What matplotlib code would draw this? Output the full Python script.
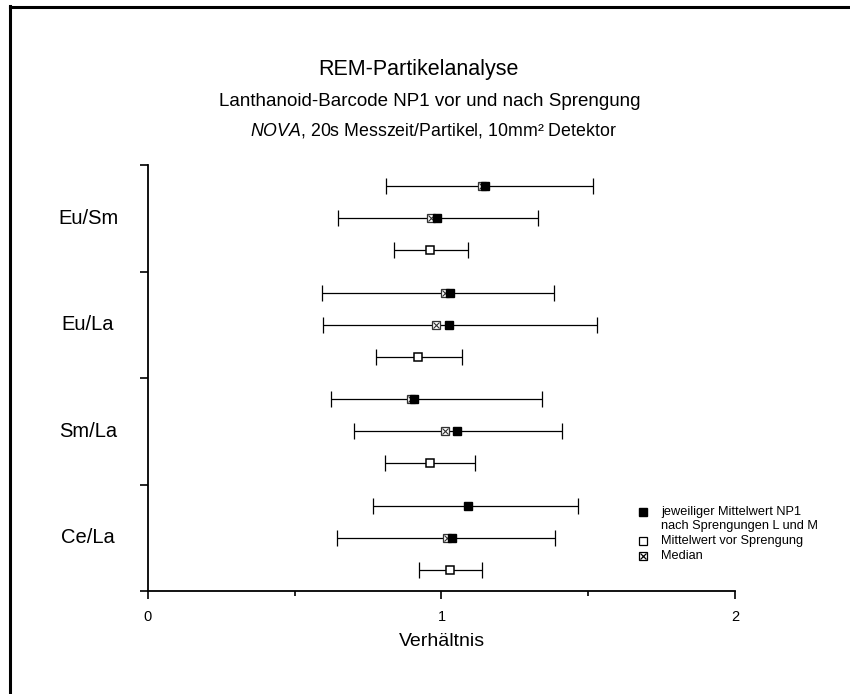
import matplotlib
matplotlib.use('Agg')
import matplotlib.pyplot as plt
import matplotlib.transforms as mtransforms
import numpy as np

plt.rcParams['font.family'] = ['Liberation Sans', 'DejaVu Sans']
plt.rcParams['mathtext.fontset'] = 'custom'
plt.rcParams['mathtext.it'] = 'Liberation Sans:italic'
plt.rcParams['mathtext.rm'] = 'Liberation Sans'

# --- Data (groups top to bottom) ---
groups = ['Eu/Sm', 'Eu/La', 'Sm/La', 'Ce/La']

# row 1: mean after Sprengung L
mean_l = [1.148, 1.029, 0.906, 1.089]
median_l = [1.137, 1.012, 0.895, np.nan]
lo_l = [0.810, 0.592, 0.622, 0.768]
hi_l = [1.516, 1.384, 1.343, 1.466]

# row 2: mean after Sprengung M
mean_m = [0.984, 1.027, 1.052, 1.035]
median_m = [0.963, 0.980, 1.011, 1.020]
lo_m = [0.648, 0.597, 0.702, 0.643]
hi_m = [1.330, 1.531, 1.412, 1.387]

# row 3: mean before Sprengung
mean_v = [0.962, 0.919, 0.960, 1.030]
lo_v = [0.838, 0.776, 0.809, 0.924]
hi_v = [1.089, 1.069, 1.114, 1.139]

W, H = 850, 694
fig = plt.figure(figsize=(W / 100, H / 100), dpi=100)
fig.patch.set_facecolor('white')

# frame around the figure (left and top visible)
fig.add_artist(plt.Line2D([9.5 / W, 9.5 / W], [0, 1 - 6 / H], color='black', lw=2.2))
fig.add_artist(plt.Line2D([9.5 / W, 1], [1 - 6.5 / H, 1 - 6.5 / H], color='black', lw=2.2))

ax = fig.add_axes([148 / W, 103 / H, 587 / W, 426 / H])
ax.set_xlim(0, 2)
ax.set_ylim(0, 4)

n = len(groups)
base = np.arange(n)[::-1]  # Eu/Sm at top


def errrow(y, mean, lo, hi):
    mean = np.array(mean)
    xerr = [mean - np.array(lo), np.array(hi) - mean]
    ax.errorbar(mean, y, xerr=xerr, fmt='none', ecolor='black', elinewidth=0.9,
                capsize=5.5, capthick=0.9, zorder=1)


def median_mark(x, y):
    ax.plot(x, y, ls='none', marker='s', ms=5.2, mfc='white', mec='#333333', mew=0.9, zorder=2)
    ax.plot(x, y, ls='none', marker='x', ms=4, mec='#333333', mew=0.8, zorder=2)


y_l = base + 0.8
y_m = base + 0.5
y_v = base + 0.2

errrow(y_l, mean_l, lo_l, hi_l)
errrow(y_m, mean_m, lo_m, hi_m)
errrow(y_v, mean_v, lo_v, hi_v)

median_mark(median_l, y_l)
median_mark(median_m, y_m)
ax.plot(mean_l, y_l, ls='none', marker='s', ms=6, mfc='black', mec='black', zorder=3)
ax.plot(mean_m, y_m, ls='none', marker='s', ms=6, mfc='black', mec='black', zorder=3)
ax.plot(mean_v, y_v, ls='none', marker='s', ms=5.4, mfc='white', mec='black', mew=1.1, zorder=3)

# axes styling
for s in ['top', 'right']:
    ax.spines[s].set_visible(False)
ax.spines['left'].set_linewidth(1.3)
ax.spines['bottom'].set_linewidth(1.3)

ax.set_xticks([0, 1, 2])
ax.set_xticklabels(['0', '1', '2'], fontsize=10.5)
ax.set_xticks([0.5, 1.5], minor=True)
ax.tick_params(axis='x', which='major', direction='out', length=6, width=1.2, pad=8)
ax.tick_params(axis='x', which='minor', direction='out', length=3.5, width=1.2)
ax.set_yticks(np.arange(0, n + 1))
ax.set_yticklabels([])
ax.tick_params(axis='y', direction='out', length=6, width=1.2)

lab_tr = mtransforms.blended_transform_factory(fig.transFigure, ax.transData)
for i, g in enumerate(groups):
    ax.text(88 / W, base[i] + 0.5, g, transform=lab_tr,
            ha='center', va='center', fontsize=14.5)

ax.set_xlabel('Verhältnis', fontsize=14, labelpad=6)

# titles
fig.text(418 / W, 1 - 70 / H, 'REM-Partikelanalyse', ha='center', va='center', fontsize=15.5)
fig.text(430 / W, 1 - 101 / H, 'Lanthanoid-Barcode NP1 vor und nach Sprengung',
         ha='center', va='center', fontsize=13.5)
fig.text(433 / W, 1 - 130 / H, r'$\it{NOVA}$, 20s Messzeit/Partikel, 10mm² Detektor',
         ha='center', va='center', fontsize=12.8)

# legend
lx, tx = 643 / W, 661 / W
fs = 9.2
fig.add_artist(plt.Line2D([lx], [1 - 512 / H], ls='none', marker='s', ms=6, mfc='black', mec='black'))
fig.text(tx, 1 - 512 / H, 'jeweiliger Mittelwert NP1', ha='left', va='center', fontsize=fs)
fig.text(tx, 1 - 526 / H, 'nach Sprengungen L und M', ha='left', va='center', fontsize=fs)
fig.add_artist(plt.Line2D([lx], [1 - 541 / H], ls='none', marker='s', ms=5.5, mfc='white', mec='black', mew=0.9))
fig.text(tx, 1 - 541 / H, 'Mittelwert vor Sprengung', ha='left', va='center', fontsize=fs)
fig.add_artist(plt.Line2D([lx], [1 - 556 / H], ls='none', marker='s', ms=5.5, mfc='white', mec='black', mew=0.9))
fig.add_artist(plt.Line2D([lx], [1 - 556 / H], ls='none', marker='x', ms=4.2, mec='black', mew=0.9))
fig.text(tx, 1 - 556 / H, 'Median', ha='left', va='center', fontsize=fs)

fig.savefig('out.png', dpi=100, facecolor='white')
